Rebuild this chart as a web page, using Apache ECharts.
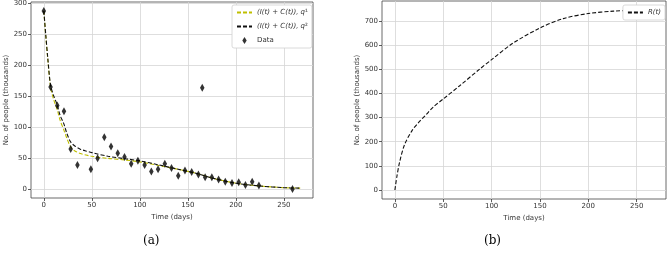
<!DOCTYPE html>
<html>
<head>
<meta charset="utf-8">
<script src="https://cdn.jsdelivr.net/npm/echarts@6/dist/echarts.min.js"></script>
<style>
  html, body { margin: 0; padding: 0; background: #fff; }
  #main { width: 667px; height: 256px; }
</style>
</head>
<body>
<div id="main"></div>
<script>
// observed data (a)
var caseDays = [0, 7, 14, 21, 28, 35, 49, 56, 63, 70, 77, 84, 91, 98, 105, 112, 119, 126, 133, 140,
                147, 154, 161, 165, 168, 175, 182, 189, 196, 203, 210, 217, 224, 259];
var caseValues = [288, 165, 135, 126, 65, 39, 32, 50, 84, 69, 58, 52, 41, 46, 39, 28.5, 32, 41, 34, 21.5,
                  30, 27.5, 23.6, 164, 19, 19, 15.6, 12, 10, 11, 6.5, 12, 6, 0];

// fitted curves (a)
var fitDays = [0, 2, 4, 7, 10, 14, 17, 21, 24, 28, 32, 38, 44, 50, 67, 85, 100, 120, 140, 160, 175, 200, 225, 250, 267];
var q1Values = [288, 248, 212, 165, 146, 128, 111, 95, 82, 68, 62, 57.5, 55, 53, 49.6, 47, 44, 38, 32, 25, 18, 9.5, 5, 2.3, 1.5];
var q2Values = [288, 250, 214, 168, 152, 136, 119, 105, 90, 76, 70, 64.6, 61.5, 59, 53, 49, 45.7, 39, 32, 25, 18, 9.5, 5, 2.3, 1.5];

// recovered curve (b)
var recDays = [0, 2, 5, 10, 18, 25, 32, 40, 50, 67, 88, 100, 122, 150, 174, 200, 226, 250, 267];
var recValues = [0, 55, 118, 188, 248, 282, 311, 345, 377, 432, 502, 540, 608, 671, 710, 731, 741, 744, 745];

var xTicks = [0, 50, 100, 150, 200, 250];
var yTicksA = [0, 50, 100, 150, 200, 250, 300];
var yTicksB = [0, 100, 200, 300, 400, 500, 600, 700];

function zip(xs, ys) {
    var out = [];
    for (var i = 0; i < xs.length; i++) out.push([xs[i], ys[i]]);
    return out;
}

var font = 'DejaVu Sans';
var txt = '#333';
var gridLine = { show: true, lineStyle: { color: '#d6d6d6', width: 0.8 } };

function xAxis(idx) {
    return {
        type: 'value', gridIndex: idx, min: -13.35, max: 280.35,
        name: 'Time (days)', nameLocation: 'middle', nameGap: 15,
        nameTextStyle: { fontSize: 7, color: txt, fontFamily: font },
        axisLine: { show: false, onZero: false },
        axisTick: { show: true, length: 3, lineStyle: { color: '#333', width: 0.8 }, customValues: xTicks },
        axisLabel: { fontSize: 7, color: txt, fontFamily: font, margin: 4, customValues: xTicks },
        splitLine: gridLine
    };
}
function yAxis(idx, min, max, ticks, gap) {
    return {
        type: 'value', gridIndex: idx, min: min, max: max,
        name: 'No. of people (thousands)', nameLocation: 'middle', nameGap: gap,
        nameTextStyle: { fontSize: 7, color: txt, fontFamily: font },
        axisLine: { show: false, onZero: false },
        axisTick: { show: true, length: 3, lineStyle: { color: '#333', width: 0.8 }, customValues: ticks },
        axisLabel: { fontSize: 7, color: txt, fontFamily: font, margin: 4, customValues: ticks },
        splitLine: gridLine
    };
}

var legendText = {
    q1: '{i|(I(t) + C(t)), q}¹',
    q2: '{i|(I(t) + C(t)), q}²',
    Data: 'Data',
    R: '{i|R(t)}'
};
var legendBase = {
    orient: 'vertical', itemWidth: 15, itemHeight: 7, itemGap: 7,
    backgroundColor: '#fff', borderColor: '#d0d0d0', borderWidth: 0.8, borderRadius: 2,
    padding: [4, 4],
    textStyle: { fontSize: 7, color: txt, fontFamily: font, rich: { i: { fontStyle: 'italic', fontSize: 7, color: txt, fontFamily: font } } },
    formatter: function (n) { return legendText[n]; }
};
var noDot = { opacity: 0 };

var chart = echarts.init(document.getElementById('main'), null, { renderer: 'canvas' });
chart.setOption({
    animation: false,
    backgroundColor: '#fff',
    grid: [
        { left: 31, top: 2, width: 282, height: 196, show: true, borderColor: '#444', borderWidth: 0.8, backgroundColor: 'transparent' },
        { left: 382, top: 1, width: 284, height: 198, show: true, borderColor: '#444', borderWidth: 0.8, backgroundColor: 'transparent' }
    ],
    xAxis: [xAxis(0), xAxis(1)],
    yAxis: [yAxis(0, -14.4, 302.4, yTicksA, 18), yAxis(1, -37.3, 783, yTicksB, 18)],
    legend: [
        Object.assign({}, legendBase, { left: 232, top: 5, data: [
            { name: 'q1', itemStyle: noDot }, { name: 'q2', itemStyle: noDot },
            { name: 'Data', icon: 'path://M2.5,0L5,4L2.5,8L0,4Z' }
        ] }),
        Object.assign({}, legendBase, { right: 2, top: 5, data: [{ name: 'R', itemStyle: noDot }] })
    ],
    graphic: [
        { type: 'text', left: 143, top: 235, style: { text: '(a)', fontSize: 12, fontFamily: 'DejaVu Serif', fill: '#000' } },
        { type: 'text', left: 484, top: 235, style: { text: '(b)', fontSize: 12, fontFamily: 'DejaVu Serif', fill: '#000' } }
    ],
    series: [
        {
            name: 'q1', type: 'line', xAxisIndex: 0, yAxisIndex: 0, symbol: 'none', smooth: 0.3,
            lineStyle: { color: '#bfbf00', width: 1.1, type: [4, 2] }, itemStyle: { color: '#bfbf00' },
            data: zip(fitDays, q1Values)
        },
        {
            name: 'q2', type: 'line', xAxisIndex: 0, yAxisIndex: 0, symbol: 'none', smooth: 0.3,
            lineStyle: { color: '#111', width: 1.1, type: [4, 2] }, itemStyle: { color: '#111' },
            data: zip(fitDays, q2Values)
        },
        {
            name: 'Data', type: 'scatter', xAxisIndex: 0, yAxisIndex: 0, symbol: 'diamond', symbolSize: [4.5, 8],
            itemStyle: { color: '#000' }, z: 5,
            data: zip(caseDays, caseValues)
        },
        {
            name: 'R', type: 'line', xAxisIndex: 1, yAxisIndex: 1, symbol: 'none', smooth: 0.3,
            lineStyle: { color: '#111', width: 1.1, type: [4, 2] }, itemStyle: { color: '#111' },
            data: zip(recDays, recValues)
        }
    ]
});
</script>
</body>
</html>
